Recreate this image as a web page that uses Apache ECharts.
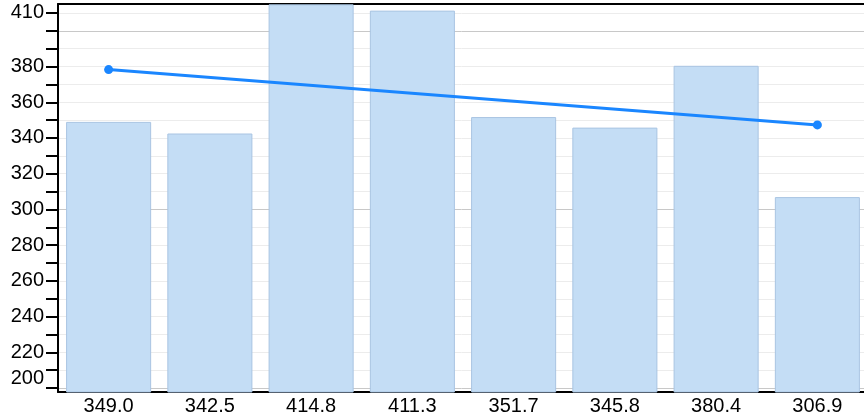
<!DOCTYPE html>
<html>
<head>
<meta charset="utf-8">
<script src="https://cdn.jsdelivr.net/npm/echarts@6/dist/echarts.min.js"></script>
<style>
  html, body { margin: 0; padding: 0; background: #fff; }
  #main { width: 864px; height: 414px; }
</style>
</head>
<body>
<div id="main"></div>
<script>
// categories (the x labels are the bar values themselves)
const categories = ['349.0', '342.5', '414.8', '411.3', '351.7', '345.8', '380.4', '306.9']
const barValues = [349.0, 342.5, 414.8, 411.3, 351.7, 345.8, 380.4, 306.9]
// trend line, only the two end points are drawn
const trendValues = [378.3, null, null, null, null, null, null, 347.3]
// y axis ticks and labels
const yTicks = [200, 210, 220, 230, 240, 250, 260, 270, 280, 290, 300, 310, 320, 330, 340, 350, 360, 370, 380, 390, 400, 410]
const yLabels = [200, 220, 240, 260, 280, 300, 320, 340, 360, 380, 410]

const chart = echarts.init(document.getElementById('main'), null, { renderer: 'canvas' })

const light = '#ececec'
const dark = '#c8c8c8'

const option = {
  animation: false,
  backgroundColor: '#fff',
  grid: { left: 58, right: -4, top: 4, bottom: 22, containLabel: false, outerBoundsMode: 'none' },
  xAxis: [{
    type: 'category',
    data: categories,
    axisLine: { lineStyle: { color: '#000', width: 2 } },
    axisTick: { show: false },
    axisLabel: { color: '#000', fontSize: 20, fontFamily: 'Liberation Sans, Arial, sans-serif', margin: 4 },
    splitLine: { show: false }
  }, {
    type: 'category',
    position: 'top',
    data: categories,
    axisLine: { lineStyle: { color: '#000', width: 2 } },
    axisTick: { show: false },
    axisLabel: { show: false }
  }],
  yAxis: {
    type: 'value',
    min: 197.8,
    max: 415,
    axisLine: { show: true, lineStyle: { color: '#000', width: 2 } },
    axisTick: { show: true, length: 12, customValues: yTicks, lineStyle: { color: '#000', width: 2 } },
    axisLabel: {
      customValues: yLabels,
      verticalAlignMinLabel: 'bottom',
      color: '#000', fontSize: 20, margin: 14,
      fontFamily: 'Liberation Sans, Arial, sans-serif'
    },
    splitLine: {
      show: true,
      lineStyle: { color: [dark, light, light, light, light, light, light, light, light, light], width: 1 }
    }
  },
  series: [{
    type: 'bar',
    data: barValues,
    barCategoryGap: '16%',
    itemStyle: { color: '#c4ddf5', borderColor: '#a9c4e2', borderWidth: 1 }
  }, {
    type: 'line',
    data: trendValues,
    connectNulls: true,
    symbol: 'circle',
    symbolSize: 9,
    showAllSymbol: true,
    lineStyle: { color: '#1a86ff', width: 3 },
    itemStyle: { color: '#1a86ff' },
    z: 5
  }]
}

chart.setOption(option)
</script>
</body>
</html>
